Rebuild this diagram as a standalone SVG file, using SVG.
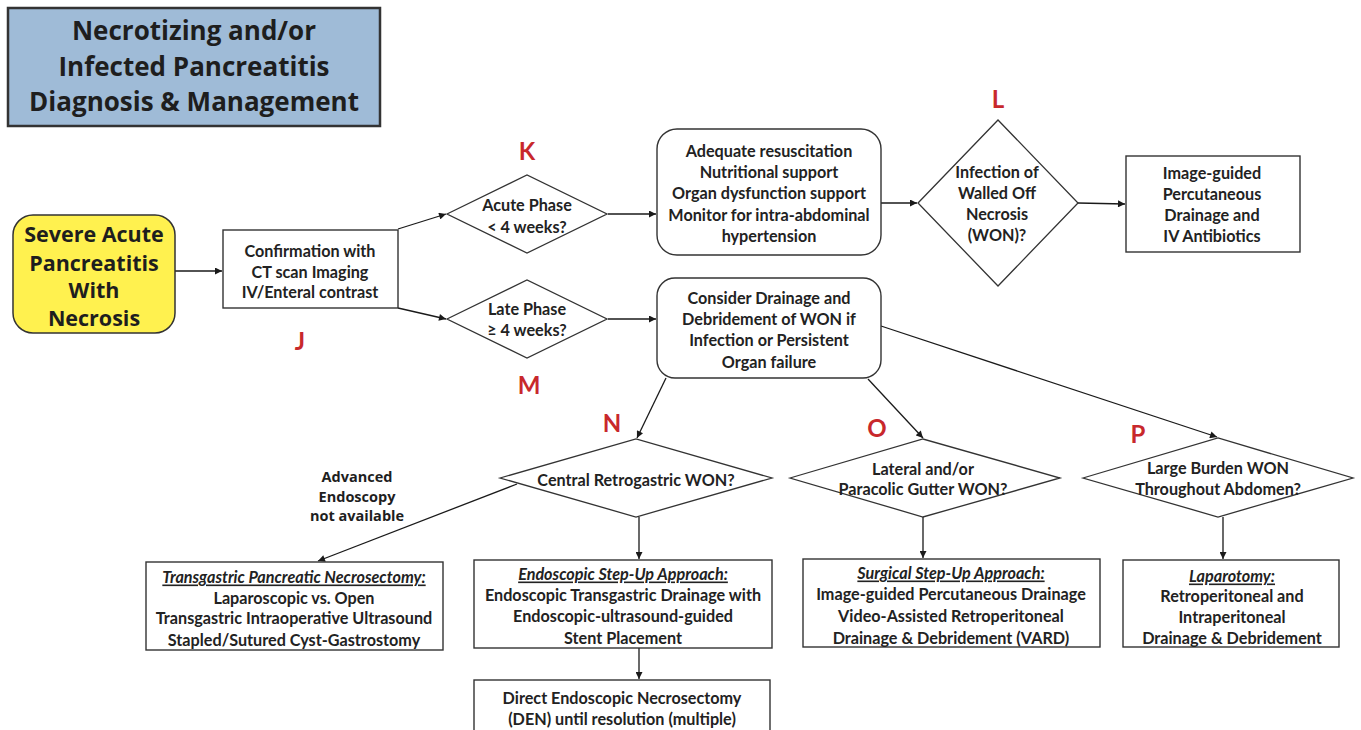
<svg xmlns="http://www.w3.org/2000/svg" width="1361" height="730" viewBox="0 0 1361 730">
<defs>
<marker id="ah" viewBox="0 0 10 10" refX="10" refY="5" markerWidth="8" markerHeight="7" markerUnits="userSpaceOnUse" orient="auto">
<path d="M0,0 L10,5 L0,10 z" fill="#1a1a1a"/>
</marker>
<style>
.bx{fill:#fff;stroke:#333;stroke-width:1.4}
.dm{fill:#fff;stroke:#333;stroke-width:1.3}
.t{font-family:Lato,"Open Sans",sans-serif;font-weight:bold;font-size:16.2px;fill:#222;text-anchor:middle;dominant-baseline:central}
.h{font-style:italic;text-decoration:underline}
.big{font-family:"Open Sans","DejaVu Sans",sans-serif;font-weight:bold;fill:#1e1e1e;text-anchor:middle;dominant-baseline:central}
.lab{font-family:Lato,"Open Sans",sans-serif;font-weight:bold;font-size:24px;fill:#c8282c;text-anchor:middle;dominant-baseline:central}
.c{fill:none;stroke:#1a1a1a;stroke-width:1.3;marker-end:url(#ah)}
</style>
</defs>
<rect width="1361" height="730" fill="#fff"/>

<g id="title">
<rect x="8" y="8" width="372" height="118" fill="#9fbbd7" stroke="#333" stroke-width="2.5"/>
<text class="big" font-size="26" x="194" y="30">Necrotizing  and/or</text>
<text class="big" font-size="26" x="194" y="66">Infected Pancreatitis</text>
<text class="big" font-size="26" x="194" y="101">Diagnosis &amp; Management</text>
</g>

<g id="connectors">
<line class="c" x1="175" y1="271" x2="222" y2="271"/>
<line class="c" x1="398" y1="229" x2="446" y2="214"/>
<line class="c" x1="398" y1="308" x2="446" y2="319"/>
<line class="c" x1="608" y1="214" x2="656" y2="214"/>
<line class="c" x1="608" y1="319" x2="656" y2="319"/>
<line class="c" x1="881" y1="203" x2="917" y2="203"/>
<line class="c" x1="1078" y1="203" x2="1125" y2="204"/>
<line class="c" x1="666" y1="378" x2="637" y2="438"/>
<line class="c" x1="868" y1="379" x2="923" y2="438"/>
<line class="c" x1="881" y1="326" x2="1217" y2="437"/>
<line class="c" x1="517" y1="484" x2="318" y2="561"/>
<line class="c" x1="639" y1="517" x2="639" y2="559"/>
<line class="c" x1="639" y1="648" x2="639" y2="679"/>
<line class="c" x1="923" y1="517" x2="923" y2="558"/>
<line class="c" x1="1223" y1="517" x2="1223" y2="559"/>
</g>

<g id="labels">
<text class="lab" x="300" y="340">J</text>
<text class="lab" x="527" y="150">K</text>
<text class="lab" x="998" y="98">L</text>
<text class="lab" x="529" y="384">M</text>
<text class="lab" x="612" y="422">N</text>
<text class="lab" x="877" y="427">O</text>
<text class="lab" x="1138" y="433">P</text>
</g>

<g id="severe">
<rect x="13" y="215" width="162" height="118" rx="20" fill="#fff14f" stroke="#333" stroke-width="1.5"/>
<text class="big" font-size="21.5" x="94" y="233">Severe Acute</text>
<text class="big" font-size="21.5" x="94" y="262">Pancreatitis</text>
<text class="big" font-size="21.5" x="94" y="289">With</text>
<text class="big" font-size="21.5" x="94" y="317">Necrosis</text>
</g>

<g id="confirm">
<rect class="bx" x="223" y="230" width="175" height="78"/>
<text class="t" x="310" y="250">Confirmation with</text>
<text class="t" x="310" y="271">CT scan Imaging</text>
<text class="t" x="310" y="291">IV/Enteral contrast</text>
</g>

<g id="acute">
<polygon class="dm" points="447,214 527,175 607,214 527,253"/>
<text class="t" x="527" y="204">Acute Phase</text>
<text class="t" x="527" y="226">&lt; 4 weeks?</text>
</g>

<g id="late">
<polygon class="dm" points="447,319 527,280 607,319 527,358"/>
<text class="t" x="527" y="308">Late Phase</text>
<text class="t" x="527" y="329">≥ 4 weeks?</text>
</g>

<g id="adequate">
<rect class="bx" x="657" y="129" width="224" height="126" rx="20"/>
<text class="t" x="769" y="150">Adequate resuscitation</text>
<text class="t" x="769" y="171">Nutritional support</text>
<text class="t" x="769" y="192">Organ dysfunction support</text>
<text class="t" x="769" y="214">Monitor for intra-abdominal</text>
<text class="t" x="769" y="235">hypertension</text>
</g>

<g id="consider">
<rect class="bx" x="657" y="278" width="224" height="100" rx="18"/>
<text class="t" x="769" y="297">Consider Drainage and</text>
<text class="t" x="769" y="318">Debridement of WON if</text>
<text class="t" x="769" y="339">Infection or Persistent</text>
<text class="t" x="769" y="361">Organ failure</text>
</g>

<g id="infection">
<polygon class="dm" points="918,203 998,120 1078,203 998,286"/>
<text class="t" x="997" y="171">Infection of</text>
<text class="t" x="997" y="192">Walled Off</text>
<text class="t" x="997" y="213">Necrosis</text>
<text class="t" x="997" y="234">(WON)?</text>
</g>

<g id="percutaneous">
<rect class="bx" x="1126" y="156" width="174" height="96"/>
<text class="t" x="1212" y="172">Image-guided</text>
<text class="t" x="1212" y="193">Percutaneous</text>
<text class="t" x="1212" y="214">Drainage and</text>
<text class="t" x="1212" y="235">IV Antibiotics</text>
</g>

<g id="central">
<polygon class="dm" points="500,478 636,439 772,478 636,517"/>
<text class="t" x="636" y="479">Central Retrogastric WON?</text>
</g>

<g id="lateral">
<polygon class="dm" points="790,478 923,439 1060,478 923,517"/>
<text class="t" x="923" y="468">Lateral and/or</text>
<text class="t" x="923" y="488">Paracolic Gutter WON?</text>
</g>

<g id="large">
<polygon class="dm" points="1083,478 1218,438 1353,478 1218,517"/>
<text class="t" x="1218" y="467">Large Burden WON</text>
<text class="t" x="1218" y="488">Throughout Abdomen?</text>
</g>

<g id="advanced">
<text class="big" font-size="14.5" x="357" y="476">Advanced</text>
<text class="big" font-size="14.5" x="357" y="496">Endoscopy</text>
<text class="big" font-size="14.5" x="357" y="515">not available</text>
</g>

<g id="transgastric">
<rect class="bx" x="146" y="562" width="297" height="88"/>
<text class="t h" x="294" y="576">Transgastric Pancreatic Necrosectomy:</text>
<text class="t" x="294" y="597">Laparoscopic vs. Open</text>
<text class="t" x="294" y="617">Transgastric Intraoperative Ultrasound</text>
<text class="t" x="294" y="639">Stapled/Sutured Cyst-Gastrostomy</text>
</g>

<g id="endoscopic">
<rect class="bx" x="474" y="560" width="298" height="88"/>
<text class="t h" x="623" y="573">Endoscopic Step-Up Approach:</text>
<text class="t" x="623" y="594">Endoscopic Transgastric Drainage with</text>
<text class="t" x="623" y="615">Endoscopic-ultrasound-guided</text>
<text class="t" x="623" y="637">Stent Placement</text>
</g>

<g id="den">
<rect class="bx" x="474" y="680" width="296" height="52"/>
<text class="t" x="622" y="697">Direct Endoscopic Necrosectomy</text>
<text class="t" x="622" y="718">(DEN) until resolution (multiple)</text>
</g>

<g id="surgical">
<rect class="bx" x="803" y="559" width="297" height="88"/>
<text class="t h" x="951" y="572">Surgical Step-Up Approach:</text>
<text class="t" x="951" y="593">Image-guided Percutaneous Drainage</text>
<text class="t" x="951" y="615">Video-Assisted Retroperitoneal</text>
<text class="t" x="951" y="637">Drainage &amp; Debridement (VARD)</text>
</g>

<g id="laparotomy">
<rect class="bx" x="1123" y="560" width="216" height="87"/>
<text class="t h" x="1232" y="575">Laparotomy:</text>
<text class="t" x="1232" y="595">Retroperitoneal and</text>
<text class="t" x="1232" y="616">Intraperitoneal</text>
<text class="t" x="1232" y="637">Drainage &amp; Debridement</text>
</g>
</svg>
